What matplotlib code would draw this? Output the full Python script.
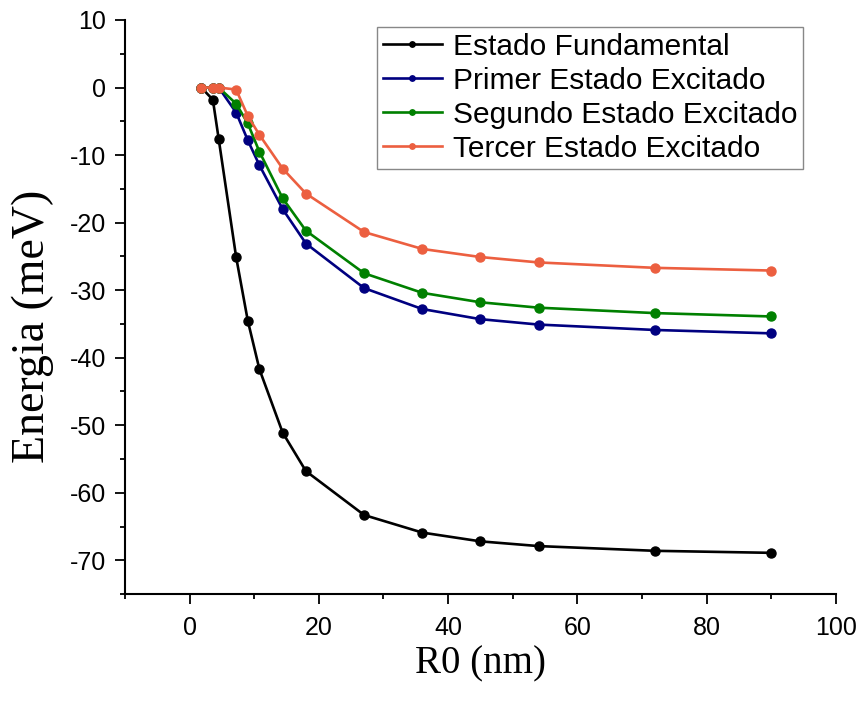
import matplotlib
matplotlib.use('Agg')
import matplotlib.pyplot as plt
from matplotlib.ticker import MultipleLocator

plt.rcParams['axes.unicode_minus'] = False

# R0 values (nm) shared by all four curves
r0 = [1.8, 3.6, 4.5, 7.2, 9.0, 10.8, 14.4, 18.0, 27.0, 36.0, 45.0, 54.0, 72.0, 90.0]

# energies in meV
fundamental = [0.0, -1.8, -7.6, -25.1, -34.5, -41.7, -51.1, -56.8, -63.3, -65.9, -67.2, -67.9, -68.6, -68.9]
primer = [0.0, 0.0, 0.0, -3.7, -7.8, -11.5, -18.0, -23.1, -29.7, -32.8, -34.3, -35.1, -35.9, -36.4]
segundo = [0.0, 0.0, 0.0, -2.4, -5.3, -9.5, -16.4, -21.2, -27.5, -30.4, -31.8, -32.6, -33.4, -33.9]
tercer = [0.0, 0.0, 0.0, -0.3, -4.2, -7.0, -12.0, -15.7, -21.4, -23.9, -25.1, -25.9, -26.7, -27.1]

labels = ['Estado Fundamental', 'Primer Estado Excitado',
          'Segundo Estado Excitado', 'Tercer Estado Excitado']
colors = ['black', '#000080', '#008000', '#ec5f40']

fig = plt.figure(figsize=(8.6, 7.04), dpi=100)
ax = fig.add_axes([0.1453, 0.1562, 0.8267, 0.8154])

for ys, lab, c in zip([fundamental, primer, segundo, tercer], labels, colors):
    ax.plot(r0, ys, color=c, lw=1.9, marker='o', ms=6.5, label=lab)

ax.set_xlim(-10, 100)
ax.set_ylim(-75, 10)
ax.xaxis.set_major_locator(MultipleLocator(20))
ax.xaxis.set_minor_locator(MultipleLocator(10))
ax.yaxis.set_major_locator(MultipleLocator(10))
ax.yaxis.set_minor_locator(MultipleLocator(5))

for s in ['top', 'right']:
    ax.spines[s].set_visible(False)
for s in ['left', 'bottom']:
    ax.spines[s].set_linewidth(1.5)

ax.tick_params(which='major', direction='out', length=7.5, width=1.3,
               labelsize=18, pad=6)
ax.tick_params(which='minor', direction='out', length=3.5, width=1.3)
ax.tick_params(axis='x', which='major', pad=8)
for t in ax.get_xticklabels() + ax.get_yticklabels():
    t.set_fontfamily('Liberation Sans')

ax.set_xlabel('R0 (nm)', fontsize=28, fontfamily='Liberation Serif')
ax.set_ylabel('Energia (meV)', fontsize=33, fontfamily='Liberation Serif')
ax.xaxis.set_label_coords(0.5, -0.09)
ax.yaxis.set_label_coords(-0.1, 0.467)

leg = ax.legend(loc='upper right', bbox_to_anchor=(0.954, 0.988),
                borderaxespad=0, fancybox=False, framealpha=1,
                edgecolor='#888888', markerscale=0.6, handlelength=2.0,
                labelspacing=0.2, handletextpad=0.35, borderpad=0.2,
                prop={'family': 'Liberation Sans', 'size': 21.5})
leg.get_frame().set_linewidth(1.0)

fig.savefig('out.png', dpi=100)
